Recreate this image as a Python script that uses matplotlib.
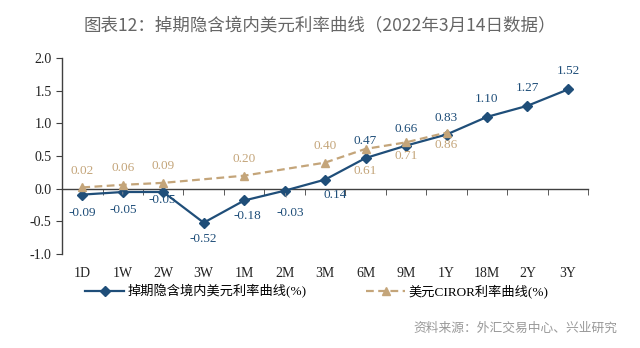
import matplotlib.pyplot as plt
from matplotlib.ticker import FixedLocator

plt.rcParams['font.family'] = ['Liberation Serif', 'Noto Sans CJK SC']
plt.rcParams['axes.unicode_minus'] = False

tenors = ["1D", "1W", "2W", "3W", "1M", "2M", "3M", "6M", "9M", "1Y", "18M", "2Y", "3Y"]
swap_rates = [-0.09, -0.05, -0.05, -0.52, -0.18, -0.03, 0.14, 0.47, 0.66, 0.83, 1.10, 1.27, 1.52]
ciror_tenors = ["1D", "1W", "2W", "1M", "3M", "6M", "9M", "1Y"]
ciror_rates = [0.02, 0.06, 0.09, 0.20, 0.40, 0.61, 0.71, 0.86]

blue = "#1f4e79"
gold = "#c4a57a"
axis_col = "#404040"

fig = plt.figure(figsize=(6.4, 3.48), dpi=100)
ax = fig.add_axes([0.097, 0.270, 0.822, 0.563])

x_blue = list(range(len(tenors)))
x_gold = [tenors.index(t) for t in ciror_tenors]

ax.plot(x_blue, swap_rates, color=blue, lw=1.6, marker="D", ms=5,
        label="掉期隐含境内美元利率曲线(%)", zorder=3)
ax.plot(x_gold, ciror_rates, color=gold, lw=1.6, ls=(0, (3.5, 2)), marker="^", ms=6,
        label="美元CIROR利率曲线(%)", zorder=4)

# label offsets in points (dx, dy) for each point
blue_off = [(0, -13), (0, -13), (-1, -6), (0, -12), (2, -11), (4, -16), (7, -11),
            (0, 12), (0, 12), (0, 12), (0, 13), (0, 13), (0, 13)]
gold_off = [(0, 12), (0, 12), (0, 12), (0, 12), (0, 12), (0, -16), (0, -10), (0, -9)]

for i, (x, v) in enumerate(zip(x_blue, swap_rates)):
    dx, dy = blue_off[i]
    arrow = None
    if tenors[i] in ("1W", "2M"):
        arrow = dict(arrowstyle="-", color="#999999", lw=0.6, shrinkA=5, shrinkB=2)
    ax.annotate(f"{v:.2f}", (x, v), xytext=(dx, dy), textcoords="offset points",
                ha="center", va="center", fontsize=9.5, color=blue, arrowprops=arrow, zorder=5)

for i, (x, v) in enumerate(zip(x_gold, ciror_rates)):
    dx, dy = gold_off[i]
    ax.annotate(f"{v:.2f}", (x, v), xytext=(dx, dy), textcoords="offset points",
                ha="center", va="center", fontsize=9.5, color=gold, zorder=5)

ax.set_xlim(-0.5, len(tenors) - 0.5)
ax.set_ylim(-1.0, 2.0)
ax.set_yticks([-1.0, -0.5, 0.0, 0.5, 1.0, 1.5, 2.0])
ax.set_yticklabels([f"{t:.1f}" for t in [-1.0, -0.5, 0.0, 0.5, 1.0, 1.5, 2.0]])

ax.spines["top"].set_visible(False)
ax.spines["right"].set_visible(False)
ax.spines["bottom"].set_position(("data", 0))
for s in ("left", "bottom"):
    ax.spines[s].set_color(axis_col)
    ax.spines[s].set_linewidth(1.0)

ax.set_xticks(x_blue)
ax.set_xticklabels(tenors)
ax.xaxis.set_minor_locator(FixedLocator([i - 0.5 for i in range(len(tenors) + 1)]))
ax.tick_params(axis="x", which="major", length=0, pad=56, labelsize=10, labelcolor="#222222")
ax.tick_params(axis="x", which="minor", length=4, direction="out", color=axis_col)
ax.tick_params(axis="y", length=4, direction="out", color=axis_col, labelsize=10,
               labelcolor="#222222")

fig.legend(loc="center", bbox_to_anchor=(0.495, 0.163), ncol=2, frameon=False,
           fontsize=9.5, handlelength=2.95, columnspacing=4.5, handletextpad=0.25)

fig.text(0.5, 0.928, "图表12：掉期隐含境内美元利率曲线（2022年3月14日数据）",
         ha="center", va="center", fontsize=12.6, color="#666666",
         family=["Noto Sans CJK SC", "DejaVu Sans"])
fig.text(0.964, 0.058, "资料来源：外汇交易中心、兴业研究", ha="right", va="center",
         fontsize=9.2, color="#999999", family=["Noto Sans CJK SC", "DejaVu Sans"])

fig.savefig("out.png", dpi=100, facecolor="white")
